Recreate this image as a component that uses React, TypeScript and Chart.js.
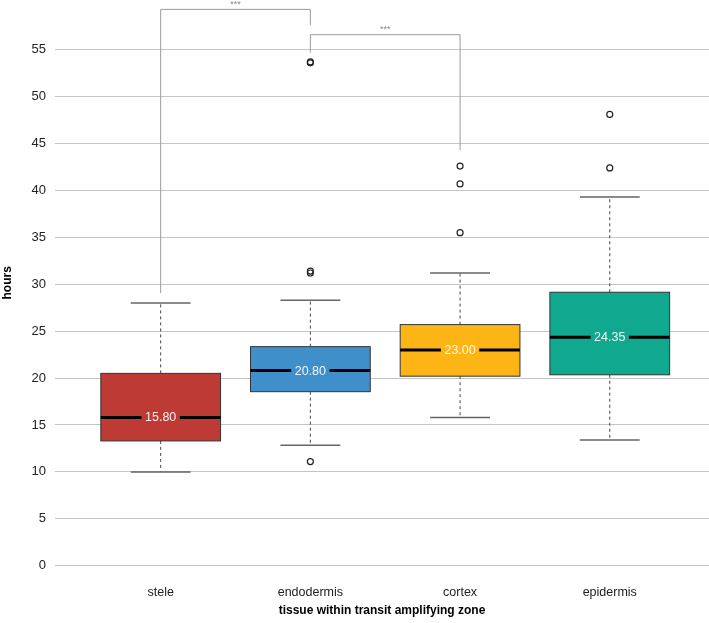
import React, { useEffect, useRef } from 'react';
import { Chart, registerables } from 'chart.js';
Chart.register(...registerables);

const categories = ['stele', 'endodermis', 'cortex', 'epidermis'];
const whiskerLow = [10.0, 12.85, 15.8, 13.4];
const q1 = [13.3, 18.55, 20.2, 20.35];
const median = [15.8, 20.8, 23.0, 24.35];
const q3 = [20.5, 23.35, 25.7, 29.15];
const whiskerHigh = [28.0, 28.3, 31.2, 39.3];
const outliers: number[][] = [[], [11.1, 31.2, 31.4, 53.6, 53.7], [35.5, 40.7, 42.6], [42.4, 48.1]];
const medianLabels = ['15.80', '20.80', '23.00', '24.35'];
const boxColors = ['#BE3A34', '#3F8FCB', '#FDB515', '#10A98F'];
const yTicks = [0, 5, 10, 15, 20, 25, 30, 35, 40, 45, 50, 55];

const bracketFrom = [1, 2];
const bracketTo = [2, 3];
const bracketTop = [59.3, 56.6];
const bracketLeftEnd = [29.05, 54.7];
const bracketRightEnd = [57.6, 44.3];
const bracketLabels = ['***', '***'];

const FONT = '"Liberation Sans", Arial, Helvetica, sans-serif';

const boxPlugin = {
  id: 'boxPlugin',
  beforeDatasetsDraw(chart: any) {
    const { ctx, scales } = chart;
    const xs = scales.x;
    const ys = scales.y;
    ctx.save();
    categories.forEach((_, i) => {
      const c = i + 1;
      const xc = xs.getPixelForValue(c);
      const xl = xs.getPixelForValue(c - 0.4);
      const xr = xs.getPixelForValue(c + 0.4);
      const cl = xs.getPixelForValue(c - 0.2);
      const cr = xs.getPixelForValue(c + 0.2);
      const yLo = ys.getPixelForValue(whiskerLow[i]);
      const yQ1 = ys.getPixelForValue(q1[i]);
      const yMed = ys.getPixelForValue(median[i]);
      const yQ3 = ys.getPixelForValue(q3[i]);
      const yHi = ys.getPixelForValue(whiskerHigh[i]);
      ctx.strokeStyle = '#444';
      ctx.lineWidth = 1;
      ctx.setLineDash([3, 3]);
      ctx.beginPath();
      ctx.moveTo(xc, yQ3);
      ctx.lineTo(xc, yHi);
      ctx.moveTo(xc, yQ1);
      ctx.lineTo(xc, yLo);
      ctx.stroke();
      ctx.setLineDash([]);
      ctx.strokeStyle = '#666';
      ctx.lineWidth = 1.5;
      ctx.beginPath();
      ctx.moveTo(cl, yHi);
      ctx.lineTo(cr, yHi);
      ctx.moveTo(cl, yLo);
      ctx.lineTo(cr, yLo);
      ctx.stroke();
      ctx.fillStyle = boxColors[i];
      ctx.fillRect(xl, yQ3, xr - xl, yQ1 - yQ3);
      ctx.strokeStyle = '#333';
      ctx.lineWidth = 1;
      ctx.strokeRect(xl, yQ3, xr - xl, yQ1 - yQ3);
      ctx.strokeStyle = '#000';
      ctx.lineWidth = 3;
      ctx.beginPath();
      ctx.moveTo(xl, yMed);
      ctx.lineTo(xr, yMed);
      ctx.stroke();
      ctx.font = `12.5px ${FONT}`;
      const tw = ctx.measureText(medianLabels[i]).width;
      ctx.fillStyle = boxColors[i];
      ctx.fillRect(xc - tw / 2 - 3.5, yMed - 7, tw + 7, 14);
      ctx.fillStyle = 'rgba(255,255,255,0.92)';
      ctx.textAlign = 'center';
      ctx.textBaseline = 'middle';
      ctx.fillText(medianLabels[i], xc, yMed + 0.5);
    });
    ctx.restore();
  },
  afterDraw(chart: any) {
    const { ctx, scales } = chart;
    const xs = scales.x;
    const ys = scales.y;
    ctx.save();
    ctx.strokeStyle = '#9a9a9a';
    ctx.lineWidth = 1;
    bracketFrom.forEach((f, i) => {
      const x1 = xs.getPixelForValue(f);
      const x2 = xs.getPixelForValue(bracketTo[i]);
      const yt = ys.getPixelForValue(bracketTop[i]);
      const yl = ys.getPixelForValue(bracketLeftEnd[i]);
      const yr = ys.getPixelForValue(bracketRightEnd[i]);
      ctx.beginPath();
      ctx.moveTo(x1, yl);
      ctx.lineTo(x1, yt);
      ctx.lineTo(x2, yt);
      ctx.lineTo(x2, yr);
      ctx.stroke();
      ctx.fillStyle = '#888';
      ctx.font = `9px ${FONT}`;
      ctx.textAlign = 'center';
      ctx.textBaseline = 'middle';
      ctx.fillText(bracketLabels[i], (x1 + x2) / 2, yt - 5);
    });
    ctx.restore();
  },
};

export default function App() {
  const ref = useRef<HTMLCanvasElement | null>(null);
  useEffect(() => {
    if (!ref.current) return;
    const points = outliers.flatMap((arr, i) => arr.map((v) => ({ x: i + 1, y: v })));
    const chart = new Chart(ref.current, {
      type: 'scatter',
      data: {
        datasets: [
          {
            data: points,
            pointStyle: 'circle',
            pointRadius: 3,
            pointBorderWidth: 1.2,
            pointBorderColor: '#222',
            pointBackgroundColor: 'rgba(0,0,0,0)',
          },
        ],
      },
      options: {
        animation: false,
        responsive: true,
        maintainAspectRatio: false,
        layout: { padding: 0, autoPadding: false },
        plugins: { legend: { display: false }, tooltip: { enabled: false } },
        scales: {
          x: {
            type: 'linear',
            min: 0.294,
            max: 4.663,
            grid: { display: false },
            border: { display: false },
            afterBuildTicks: (s: any) => {
              s.ticks = categories.map((_, i) => ({ value: i + 1 }));
            },
            afterFit: (s: any) => {
              s.height = 57.3;
              s.paddingLeft = 0;
              s.paddingRight = 0;
            },
            ticks: {
              autoSkip: false,
              maxRotation: 0,
              padding: 11,
              color: '#222',
              font: { family: FONT, size: 12.5 },
              callback: (v: any) => categories[Math.round(Number(v)) - 1] ?? '',
            },
            title: {
              display: true,
              text: 'tissue within transit amplifying zone',
              color: '#000',
              font: { family: FONT, size: 12, weight: 'bold' },
              padding: { top: 0, bottom: 5 },
            },
          },
          y: {
            type: 'linear',
            min: 0,
            max: 60.3,
            grid: { color: '#c4c4c4', lineWidth: 1, drawTicks: false },
            border: { display: false },
            afterBuildTicks: (s: any) => {
              s.ticks = yTicks.map((v) => ({ value: v }));
            },
            afterFit: (s: any) => {
              s.width = 55;
              s.paddingTop = 0;
              s.paddingBottom = 0;
            },
            ticks: {
              padding: 9,
              color: '#222',
              font: { family: FONT, size: 13 },
              callback: (v: any) => String(v),
            },
            title: {
              display: true,
              text: 'hours',
              color: '#000',
              font: { family: FONT, size: 12, weight: 'bold' },
              padding: { top: 0, bottom: 0 },
            },
          },
        },
      },
      plugins: [boxPlugin],
    });
    return () => chart.destroy();
  }, []);
  return (
    <div style={{ position: 'fixed', left: 0, top: 0, width: 709, height: 623, background: '#fff' }}>
      <canvas ref={ref} />
    </div>
  );
}
